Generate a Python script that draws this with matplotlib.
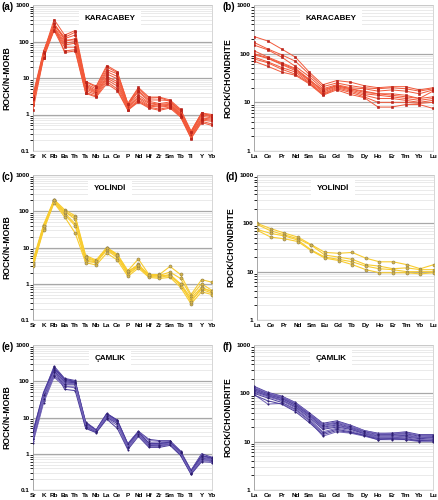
import numpy as np
import matplotlib
matplotlib.use("Agg")
import matplotlib.pyplot as plt
from matplotlib.ticker import LogLocator, NullFormatter, FuncFormatter

plt.rcParams['font.family'] = ['Liberation Sans', 'DejaVu Sans']

# element lists
morb_elems = ["Sr", "K", "Rb", "Ba", "Th", "Ta", "Nb", "La", "Ce", "P",
              "Nd", "Hf", "Zr", "Sm", "Tb", "Ti", "Y", "Yb"]
ree_elems = ["La", "Ce", "Pr", "Nd", "Sm", "Eu", "Gd", "Tb", "Dy", "Ho",
             "Er", "Tm", "Yb", "Lu"]

# Karacabey, N-MORB normalised
kar_morb = [
    [2.0, 50, 400, 150, 200, 8.0, 6.0, 22, 15, 2.0, 5.5, 3.0, 3.0, 2.5, 1.4, 0.35, 1.10, 1.00],
    [3.5, 55, 300, 130, 180, 7.0, 5.0, 17, 13, 1.9, 4.5, 2.5, 2.5, 2.4, 1.2, 0.33, 1.05, 0.95],
    [3.0, 45, 280, 120, 150, 6.5, 4.5, 15, 11, 1.8, 4.2, 2.3, 2.0, 2.2, 1.1, 0.32, 1.00, 0.85],
    [2.5, 40, 250, 100, 120, 6.0, 4.2, 13, 9.5, 1.7, 3.5, 2.1, 1.9, 2.0, 1.05, 0.30, 0.90, 0.80],
    [2.2, 38, 230, 90, 100, 5.5, 4.0, 11, 8.0, 1.6, 3.0, 2.0, 1.8, 1.9, 1.0, 0.28, 0.80, 0.75],
    [1.8, 35, 220, 80, 90, 5.0, 3.8, 10, 7.0, 1.5, 2.8, 1.8, 1.7, 1.8, 0.95, 0.27, 0.75, 0.70],
    [2.8, 42, 210, 70, 70, 4.5, 3.5, 9, 6.0, 1.4, 2.5, 1.7, 1.6, 1.7, 0.9, 0.25, 0.70, 0.65],
    [1.3, 36, 200, 55, 60, 4.0, 3.2, 8, 5.0, 1.35, 2.3, 1.6, 1.4, 1.6, 0.9, 0.23, 0.65, 0.55],
    [3.2, 48, 260, 50, 55, 3.8, 3.0, 7, 4.5, 1.3, 2.2, 1.5, 1.3, 1.5, 0.85, 0.22, 0.60, 0.50],
    [2.6, 52, 320, 110, 110, 8.0, 5.5, 20, 14, 2.0, 5.0, 2.8, 2.9, 2.3, 1.3, 0.34, 1.10, 0.90],
]

# Karacabey, chondrite normalised
kar_ree = [
    [225, 182, 125, 85, 42, 23, 28, 26, 22, 20, 21, 21, 18, 20],
    [170, 125, 95, 70, 38, 21, 25, 22, 20, 19, 20, 19, 17, 19],
    [150, 120, 85, 55, 34, 19, 23, 20, 19, 17, 18, 17, 15, 18],
    [115, 85, 65, 50, 30, 17, 22, 19, 17, 15, 15, 14, 12, 13],
    [95, 80, 60, 45, 28, 16, 21, 18, 15, 14, 13, 12, 11, 12],
    [85, 68, 52, 42, 26, 15, 20, 17, 14, 12, 12, 11, 10, 11],
    [78, 65, 48, 38, 25, 14.5, 19, 16, 13, 10, 10, 10, 9.5, 10],
    [70, 55, 42, 36, 24, 14, 18, 14.5, 12.5, 8, 8, 9, 9, 7.5],
    [100, 82, 62, 48, 29, 18, 22, 19, 16, 15, 14, 13, 12, 17],
]

# Yolindi, N-MORB normalised
yol_morb = [
    [4.5, 42, 210, 110, 75, 6.0, 4.5, 10, 6.5, 2.3, 4.8, 1.8, 1.8, 3.0, 1.8, 0.50, 1.3, 1.1],
    [4.0, 40, 200, 100, 60, 5.0, 4.2, 9.5, 6.2, 2.1, 3.4, 1.7, 1.7, 2.1, 1.4, 0.45, 1.0, 0.65],
    [3.5, 35, 190, 90, 45, 4.5, 4.0, 9, 5.8, 1.9, 3.2, 1.65, 1.6, 1.8, 1.0, 0.40, 0.8, 0.60],
    [3.2, 32, 180, 80, 40, 4.2, 3.8, 8.5, 5.2, 1.8, 3.0, 1.6, 1.5, 1.7, 0.9, 0.35, 0.7, 0.55],
    [3.0, 30, 170, 70, 25, 3.8, 3.3, 7, 4.5, 1.6, 2.7, 1.5, 1.4, 1.5, 0.8, 0.28, 0.6, 0.50],
    [3.8, 38, 200, 95, 70, 5.5, 4.3, 9.8, 6.3, 2.2, 3.3, 1.75, 1.75, 1.6, 1.0, 0.32, 0.75, 0.62],
]

# Yolindi, chondrite normalised
yol_ree = [
    [100, 78, 63, 52, 36, 25, 24, 25, 19, 16, 16, 14, 11.5, 14],
    [95, 70, 58, 48, 35, 22, 20, 18, 14, 13, 11.5, 12, 11, 11],
    [75, 62, 55, 45, 28, 20, 18, 16, 13, 11.5, 11, 10, 10, 10],
    [72, 52, 48, 42, 27, 19, 17, 14, 11, 9.5, 9.5, 9.5, 9, 9.5],
]

# Camlik, N-MORB normalised
cam_morb = [
    [3.0, 45, 260, 120, 105, 7.5, 4.6, 13, 8.5, 1.9, 4.2, 2.5, 2.3, 2.3, 1.2, 0.35, 1.0, 0.80],
    [4.0, 50, 240, 110, 100, 7.0, 4.5, 12.5, 8.0, 1.8, 4.0, 2.0, 2.0, 2.2, 1.15, 0.34, 0.9, 0.78],
    [3.5, 40, 220, 105, 95, 6.5, 4.4, 12, 8.2, 1.7, 3.9, 1.9, 1.9, 2.1, 1.1, 0.33, 0.85, 0.75],
    [2.8, 38, 200, 100, 90, 6.2, 4.3, 11.5, 7.8, 1.75, 3.8, 1.85, 1.8, 2.0, 1.05, 0.32, 0.8, 0.72],
    [3.2, 35, 190, 95, 92, 6.0, 4.2, 11, 7.5, 1.65, 3.7, 1.8, 1.75, 2.0, 1.0, 0.31, 0.75, 0.70],
    [2.5, 30, 170, 90, 85, 5.8, 4.1, 10.5, 7.2, 1.6, 3.6, 1.75, 1.7, 1.9, 1.0, 0.30, 0.7, 0.68],
    [2.2, 28, 150, 80, 80, 5.5, 4.0, 10, 6.8, 1.5, 3.5, 1.7, 1.65, 1.85, 0.95, 0.29, 0.68, 0.65],
    [2.0, 25, 130, 70, 70, 5.2, 3.9, 9.5, 6.0, 1.4, 3.3, 1.6, 1.6, 1.8, 0.92, 0.28, 0.65, 0.62],
    [3.8, 45, 210, 60, 55, 5.0, 3.8, 9.0, 5.0, 1.3, 3.0, 1.5, 1.5, 1.7, 0.9, 0.27, 0.6, 0.58],
    [3.0, 32, 140, 75, 65, 6.8, 4.4, 12, 7.9, 1.8, 4.1, 2.3, 2.2, 2.2, 1.1, 0.33, 0.95, 0.55],
    [4.2, 48, 230, 115, 98, 7.2, 4.5, 12.8, 8.3, 1.85, 4.0, 1.95, 1.9, 2.1, 1.12, 0.34, 0.88, 0.77],
    [2.6, 42, 180, 85, 88, 6.3, 4.2, 11.2, 7.0, 1.55, 3.6, 1.8, 1.75, 1.95, 1.02, 0.30, 0.72, 0.66],
]

# Camlik, chondrite normalised
cam_ree = [
    [140, 105, 88, 65, 40, 24, 27, 22, 17, 15, 15, 16, 14, 14],
    [130, 100, 85, 62, 38, 23, 25, 21, 16.5, 14.5, 14.5, 15, 13.5, 13.5],
    [125, 98, 82, 60, 37, 22, 24, 20, 16, 14, 14, 14.5, 13, 13],
    [120, 95, 80, 58, 36, 21, 23, 19.5, 15.5, 13.5, 13.5, 14, 12.5, 12.5],
    [118, 92, 78, 56, 35, 20, 22, 19, 15, 13, 13, 13.5, 12, 12.5],
    [115, 90, 75, 54, 34, 19, 21, 18.5, 15, 12.5, 12.5, 13, 12, 12],
    [110, 88, 72, 52, 32, 18, 20, 18, 14.5, 12, 12, 12.5, 11.5, 12],
    [105, 85, 70, 50, 30, 16, 19, 17, 14, 12, 12, 12, 11, 11.5],
    [100, 80, 65, 47, 28, 15, 18, 16, 13.5, 11.5, 11.5, 11.5, 10.5, 11],
    [95, 60, 62, 45, 27, 13, 16, 15, 13, 11, 11, 11, 10, 10],
    [92, 70, 60, 42, 25, 14, 17, 15.5, 13.5, 11, 11.5, 11, 10.5, 10.5],
    [135, 102, 86, 64, 39, 22, 26, 21.5, 17, 14.5, 15, 15.5, 13.5, 13],
]

styles = {
    "red": dict(line="#f2593a", mfc="#c4231a", mec="#b01e18", marker="s", ms=2.0, lw=0.7),
    "yellow": dict(line="#f8cc30", mfc="#d7b64c", mec="#8c7c48", marker="o", ms=2.2, lw=0.8),
    "purple": dict(line="#4b3c9c", mfc="#2c1d6e", mec="#2c1d6e", marker="o", ms=1.0, lw=0.7),
}


def draw_panel(ax, elems, data, ymin, style, title, ylabel, tag):
    st = styles[style]
    x = np.arange(len(elems))
    for i, row in enumerate(data):
        c = st["line"]
        if style == "purple" and i % 2 == 1:
            c = "#7466b8"
        ax.plot(x, row, color=c, lw=st["lw"], marker=st["marker"], ms=st["ms"],
                mfc=st["mfc"], mec=st["mec"], mew=0.4, zorder=3)
    ax.set_yscale("log")
    ax.set_ylim(ymin, 1000)
    ax.set_xlim(0, len(elems) - 1)
    ax.yaxis.set_major_locator(LogLocator(base=10, numticks=10))
    ax.yaxis.set_minor_locator(LogLocator(base=10, subs=np.arange(2, 10), numticks=10))
    ax.yaxis.set_minor_formatter(NullFormatter())
    ax.yaxis.set_major_formatter(FuncFormatter(lambda v, p: "%g" % v))
    ax.grid(which="major", axis="y", color="#a8a8a8", lw=0.9, zorder=1)
    ax.grid(which="minor", axis="y", color="#e2e2e2", lw=0.5, zorder=1)
    ax.set_xticks(x)
    ax.set_xticklabels(elems, fontsize=4.6, fontweight="bold")
    ax.tick_params(axis="both", length=0, pad=2.5)
    ax.tick_params(axis="y", labelsize=4.6)
    for lab in ax.get_yticklabels():
        lab.set_fontweight("bold")
    for s in ["top", "right", "bottom"]:
        ax.spines[s].set_color("#d0d0d0")
        ax.spines[s].set_linewidth(0.6)
    ax.spines["left"].set_color("#999999")
    ax.spines["left"].set_linewidth(0.6)
    ax.set_ylabel(ylabel, fontsize=6.2, fontweight="bold", labelpad=3)
    ax.text(0.43, 0.905, title, transform=ax.transAxes, ha="center", va="center",
            fontsize=5.8, fontweight="bold", zorder=5,
            bbox=dict(boxstyle="square,pad=0.7", fc="white", ec="none"))
    ax.text(-0.178, 0.985, tag, transform=ax.transAxes, ha="left", va="center",
            fontsize=7, fontweight="bold")


fig = plt.figure(figsize=(4.39, 5.0), dpi=100)
ax_a = fig.add_axes([0.0752, 0.698, 0.408, 0.292])
ax_b = fig.add_axes([0.5786, 0.698, 0.408, 0.292])
ax_c = fig.add_axes([0.0752, 0.360, 0.408, 0.29])
ax_d = fig.add_axes([0.5854, 0.360, 0.403, 0.29])
ax_e = fig.add_axes([0.0752, 0.020, 0.408, 0.29])
ax_f = fig.add_axes([0.5786, 0.020, 0.408, 0.29])

draw_panel(ax_a, morb_elems, kar_morb, 0.1, "red", "KARACABEY", "ROCK/N-MORB", "(a)")
draw_panel(ax_b, ree_elems, kar_ree, 1, "red", "KARACABEY", "ROCK/CHONDRITE", "(b)")
draw_panel(ax_c, morb_elems, yol_morb, 0.1, "yellow", "YOLİNDİ", "ROCK/N-MORB", "(c)")
draw_panel(ax_d, ree_elems, yol_ree, 1, "yellow", "YOLİNDİ", "ROCK/CHONDRITE", "(d)")
draw_panel(ax_e, morb_elems, cam_morb, 0.1, "purple", "ÇAMLIK", "ROCK/N-MORB", "(e)")
draw_panel(ax_f, ree_elems, cam_ree, 1, "purple", "ÇAMLIK", "ROCK/CHONDRITE", "(f)")

fig.savefig("out.png", dpi=100)
